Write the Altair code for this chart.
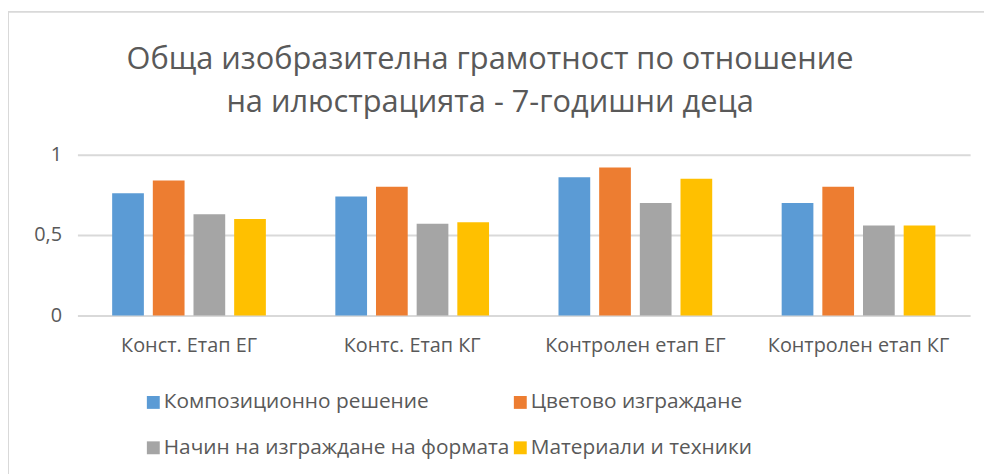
import altair as alt
import pandas as pd

groups = ["Конст. Етап ЕГ", "Контс. Етап КГ", "Контролен етап ЕГ", "Контролен етап КГ"]
series = ["Композиционно решение", "Цветово изграждане",
          "Начин на изграждане на формата", "Материали и техники"]
colors = ["#5B9BD5", "#ED7D31", "#A5A5A5", "#FFC000"]

vals_komp = [0.76, 0.74, 0.86, 0.70]
vals_cvet = [0.84, 0.80, 0.92, 0.80]
vals_nachin = [0.63, 0.57, 0.70, 0.56]
vals_mat = [0.60, 0.58, 0.85, 0.56]

title_lines = ["Обща изобразителна грамотност по отношение",
               "на илюстрацията - 7-годишни деца"]

rows = []
for s, vals in zip(series, [vals_komp, vals_cvet, vals_nachin, vals_mat]):
    for g, v in zip(groups, vals):
        rows.append({"group": g, "series": s, "value": v})
df = pd.DataFrame(rows)

FONT = "Open Sans"
GREY = "#595959"

bars = alt.Chart(df).mark_bar().encode(
    x=alt.X("group:N", sort=groups, title=None,
            scale=alt.Scale(paddingInner=0, paddingOuter=0),
            axis=alt.Axis(labelAngle=0, ticks=False, domain=False, grid=False,
                          labelPadding=20, labelFontSize=20, labelColor=GREY,
                          labelFont=FONT, labelLimit=400)),
    xOffset=alt.XOffset("series:N", sort=series,
                        scale=alt.Scale(paddingInner=0.22, paddingOuter=0.854)),
    y=alt.Y("value:Q", title=None,
            scale=alt.Scale(domain=[0, 1], nice=False),
            axis=alt.Axis(values=[0, 0.5, 1],
                          labelExpr="replace(format(datum.value, ''), '.', ',')",
                          ticks=False, domain=False, gridColor="#d9d9d9", gridWidth=2,
                          labelPadding=16, labelFontSize=20, labelColor=GREY,
                          labelFont=FONT)),
    color=alt.Color("series:N", sort=series,
                    scale=alt.Scale(domain=series, range=colors),
                    legend=alt.Legend(title=None, orient="none", legendX=66, legendY=239,
                                      direction="horizontal", columns=2,
                                      symbolType="square", symbolSize=169,
                                      symbolStrokeWidth=0, labelFontSize=21,
                                      labelFont=FONT, labelColor=GREY, labelLimit=500,
                                      labelOffset=0, columnPadding=0, rowPadding=24)),
)

border = alt.Chart(pd.DataFrame({"a": [0]})).mark_rect(
    filled=False, stroke="#d9d9d9", strokeWidth=2, clip=False
).encode(
    x=alt.value(-70), x2=alt.value(1000), y=alt.value(-144), y2=alt.value(420)
)

chart = alt.layer(border, bars).properties(
    width=900, height=162,
    autosize=alt.AutoSizeParams(type="none"),
    padding={"left": 70, "top": 146, "right": 14, "bottom": 158},
    title=alt.TitleParams(text=title_lines, fontSize=31, font=FONT, color=GREY,
                          fontWeight="normal", anchor="middle", frame="group",
                          offset=-109, lineHeight=43, dx=-34),
).configure_view(stroke=None)

chart.save("out.html", embed_options={"renderer": "svg", "actions": False})
